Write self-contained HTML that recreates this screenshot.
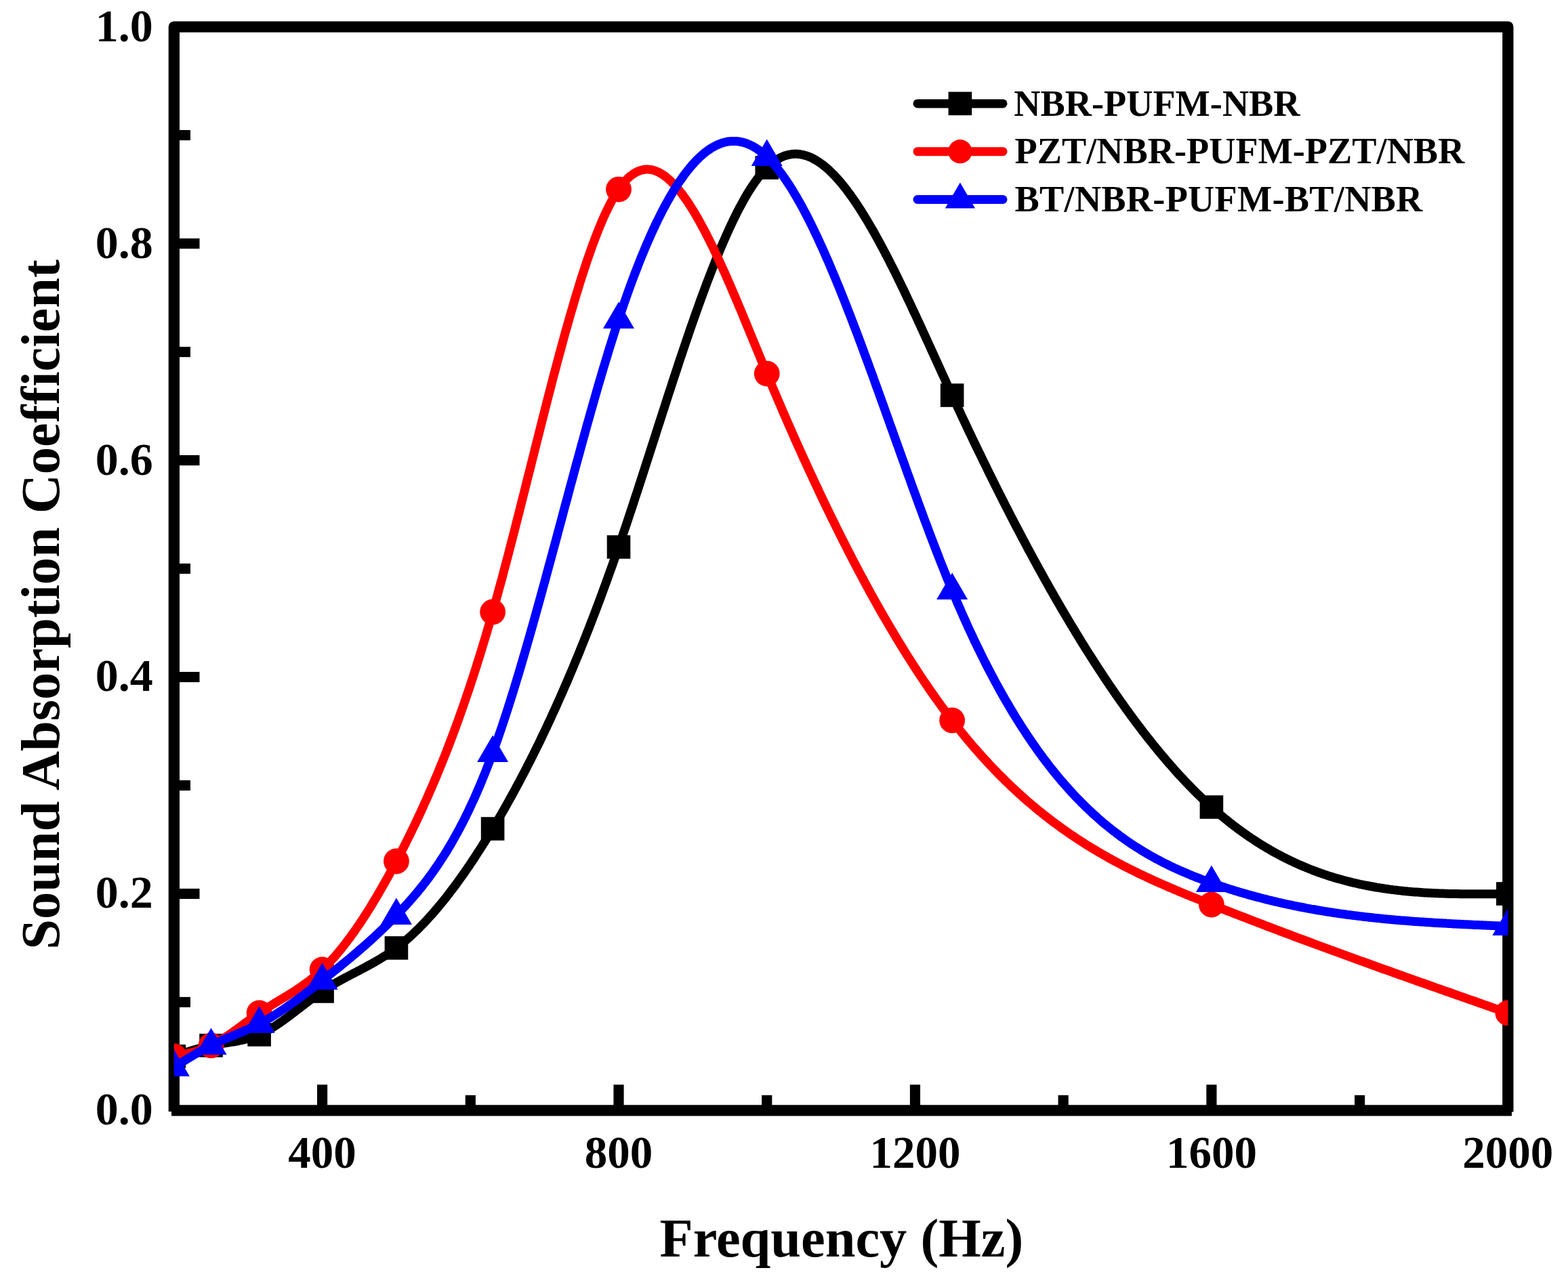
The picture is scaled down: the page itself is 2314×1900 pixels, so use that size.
<!DOCTYPE html>
<html><head><meta charset="utf-8"><title>Sound Absorption Coefficient</title>
<style>html,body{margin:0;padding:0;background:#fff;}svg{display:block;}</style></head>
<body>
<svg width="2314" height="1900" viewBox="0 0 2314 1900">
<defs><clipPath id="pa"><rect x="256.85" y="39.6" width="1968.5" height="1599.8500000000001"/></clipPath></defs>
<rect width="2314" height="1900" fill="#fff"/>
<path d="M256.85,1640.95 L256.85,39.6 L2225.35,39.6 L2225.35,1641.45" fill="none" stroke="#000" stroke-width="16.3" stroke-linejoin="round"/>
<line x1="253" y1="1639.45" x2="2231" y2="1639.45" stroke="#000" stroke-width="16.3"/>
<line x1="475.57" y1="1632.3" x2="475.57" y2="1601.3" stroke="#000" stroke-width="15.2"/>
<line x1="913.02" y1="1632.3" x2="913.02" y2="1601.3" stroke="#000" stroke-width="15.2"/>
<line x1="1350.46" y1="1632.3" x2="1350.46" y2="1601.3" stroke="#000" stroke-width="15.2"/>
<line x1="1787.91" y1="1632.3" x2="1787.91" y2="1601.3" stroke="#000" stroke-width="15.2"/>
<line x1="694.29" y1="1632.3" x2="694.29" y2="1616.8" stroke="#000" stroke-width="15.2"/>
<line x1="1131.74" y1="1632.3" x2="1131.74" y2="1616.8" stroke="#000" stroke-width="15.2"/>
<line x1="1569.18" y1="1632.3" x2="1569.18" y2="1616.8" stroke="#000" stroke-width="15.2"/>
<line x1="2006.63" y1="1632.3" x2="2006.63" y2="1616.8" stroke="#000" stroke-width="15.2"/>
<line x1="264.0" y1="1319.48" x2="294.5" y2="1319.48" stroke="#000" stroke-width="15.2"/>
<line x1="264.0" y1="999.51" x2="294.5" y2="999.51" stroke="#000" stroke-width="15.2"/>
<line x1="264.0" y1="679.54" x2="294.5" y2="679.54" stroke="#000" stroke-width="15.2"/>
<line x1="264.0" y1="359.57" x2="294.5" y2="359.57" stroke="#000" stroke-width="15.2"/>
<line x1="264.0" y1="1479.47" x2="281.0" y2="1479.47" stroke="#000" stroke-width="15.2"/>
<line x1="264.0" y1="1159.49" x2="281.0" y2="1159.49" stroke="#000" stroke-width="15.2"/>
<line x1="264.0" y1="839.52" x2="281.0" y2="839.52" stroke="#000" stroke-width="15.2"/>
<line x1="264.0" y1="519.56" x2="281.0" y2="519.56" stroke="#000" stroke-width="15.2"/>
<line x1="264.0" y1="199.58" x2="281.0" y2="199.58" stroke="#000" stroke-width="15.2"/>
<g clip-path="url(#pa)">
<polyline points="256.9,1559.5 259.6,1558.5 262.3,1557.6 265.1,1556.7 267.8,1555.8 270.5,1554.9 273.3,1554.0 276.0,1553.1 278.7,1552.3 281.5,1551.4 284.2,1550.6 286.9,1549.7 289.7,1548.9 292.4,1548.2 295.1,1547.4 297.9,1546.7 300.6,1546.0 303.3,1545.3 306.1,1544.7 308.8,1544.0 311.5,1543.5 314.3,1542.9 317.0,1542.4 319.7,1541.9 322.5,1541.5 325.2,1541.0 327.9,1540.6 330.7,1540.1 333.4,1539.7 336.1,1539.3 338.9,1538.9 341.6,1538.4 344.3,1538.0 347.1,1537.5 349.8,1537.0 352.5,1536.5 355.3,1535.9 358.0,1535.3 360.7,1534.7 363.5,1534.0 366.2,1533.3 368.9,1532.5 371.7,1531.6 374.4,1530.7 377.1,1529.7 379.9,1528.6 382.6,1527.5 385.3,1526.2 388.1,1524.9 390.8,1523.5 393.6,1522.1 396.3,1520.5 399.0,1518.9 401.8,1517.3 404.5,1515.6 407.2,1513.8 410.0,1512.0 412.7,1510.1 415.4,1508.2 418.2,1506.3 420.9,1504.3 423.6,1502.3 426.4,1500.3 429.1,1498.2 431.8,1496.1 434.6,1494.0 437.3,1491.9 440.0,1489.8 442.8,1487.7 445.5,1485.6 448.2,1483.5 451.0,1481.4 453.7,1479.3 456.4,1477.2 459.2,1475.2 461.9,1473.1 464.6,1471.1 467.4,1469.2 470.1,1467.2 472.8,1465.3 475.6,1463.5 478.3,1461.7 481.0,1459.9 483.8,1458.2 486.5,1456.5 489.2,1454.8 492.0,1453.2 494.7,1451.6 497.4,1450.0 500.2,1448.5 502.9,1447.0 505.6,1445.5 508.4,1444.0 511.1,1442.6 513.8,1441.1 516.6,1439.7 519.3,1438.3 522.1,1436.8 524.8,1435.4 527.5,1434.0 530.3,1432.6 533.0,1431.1 535.7,1429.7 538.5,1428.3 541.2,1426.8 543.9,1425.3 546.7,1423.8 549.4,1422.3 552.1,1420.8 554.9,1419.2 557.6,1417.6 560.3,1416.0 563.1,1414.3 565.8,1412.6 568.5,1410.9 571.3,1409.1 574.0,1407.3 576.7,1405.4 579.5,1403.5 582.2,1401.5 584.9,1399.5 587.7,1397.4 590.4,1395.2 593.1,1393.0 595.9,1390.8 598.6,1388.5 601.3,1386.1 604.1,1383.7 606.8,1381.2 609.5,1378.7 612.3,1376.1 615.0,1373.5 617.7,1370.8 620.5,1368.0 623.2,1365.2 625.9,1362.4 628.7,1359.5 631.4,1356.5 634.1,1353.5 636.9,1350.5 639.6,1347.4 642.3,1344.2 645.1,1341.0 647.8,1337.8 650.5,1334.5 653.3,1331.1 656.0,1327.7 658.8,1324.3 661.5,1320.8 664.2,1317.2 667.0,1313.6 669.7,1310.0 672.4,1306.3 675.2,1302.6 677.9,1298.8 680.6,1295.0 683.4,1291.1 686.1,1287.2 688.8,1283.3 691.6,1279.3 694.3,1275.2 697.0,1271.1 699.8,1267.0 702.5,1262.8 705.2,1258.6 708.0,1254.4 710.7,1250.1 713.4,1245.8 716.2,1241.4 718.9,1237.0 721.6,1232.5 724.4,1228.0 727.1,1223.5 729.8,1218.9 732.6,1214.3 735.3,1209.7 738.0,1205.0 740.8,1200.2 743.5,1195.5 746.2,1190.7 749.0,1185.8 751.7,1180.9 754.4,1176.0 757.2,1171.0 759.9,1166.0 762.6,1160.9 765.4,1155.8 768.1,1150.7 770.8,1145.5 773.6,1140.2 776.3,1135.0 779.0,1129.6 781.8,1124.3 784.5,1118.9 787.3,1113.4 790.0,1107.9 792.7,1102.4 795.5,1096.8 798.2,1091.1 800.9,1085.4 803.7,1079.7 806.4,1073.9 809.1,1068.1 811.9,1062.2 814.6,1056.2 817.3,1050.3 820.1,1044.2 822.8,1038.2 825.5,1032.0 828.3,1025.8 831.0,1019.6 833.7,1013.3 836.5,1007.0 839.2,1000.6 841.9,994.2 844.7,987.7 847.4,981.1 850.1,974.6 852.9,967.9 855.6,961.2 858.3,954.4 861.1,947.6 863.8,940.8 866.5,933.9 869.3,926.9 872.0,919.9 874.7,912.8 877.5,905.6 880.2,898.4 882.9,891.2 885.7,883.9 888.4,876.5 891.1,869.1 893.9,861.6 896.6,854.0 899.3,846.4 902.1,838.8 904.8,831.1 907.5,823.3 910.3,815.4 913.0,807.5 915.8,799.6 918.5,791.5 921.2,783.5 924.0,775.4 926.7,767.2 929.4,759.0 932.2,750.7 934.9,742.4 937.6,734.1 940.4,725.7 943.1,717.3 945.8,708.9 948.6,700.4 951.3,692.0 954.0,683.5 956.8,675.0 959.5,666.5 962.2,658.0 965.0,649.5 967.7,641.0 970.4,632.4 973.2,623.9 975.9,615.4 978.6,607.0 981.4,598.5 984.1,590.0 986.8,581.6 989.6,573.2 992.3,564.8 995.0,556.5 997.8,548.1 1000.5,539.9 1003.2,531.6 1006.0,523.4 1008.7,515.3 1011.4,507.2 1014.2,499.1 1016.9,491.1 1019.6,483.2 1022.4,475.3 1025.1,467.5 1027.8,459.8 1030.6,452.1 1033.3,444.5 1036.0,437.0 1038.8,429.6 1041.5,422.2 1044.2,415.0 1047.0,407.8 1049.7,400.7 1052.5,393.7 1055.2,386.9 1057.9,380.1 1060.7,373.4 1063.4,366.8 1066.1,360.4 1068.9,354.1 1071.6,347.9 1074.3,341.8 1077.1,335.8 1079.8,330.0 1082.5,324.2 1085.3,318.7 1088.0,313.2 1090.7,307.9 1093.5,302.8 1096.2,297.8 1098.9,292.9 1101.7,288.2 1104.4,283.7 1107.1,279.3 1109.9,275.1 1112.6,271.0 1115.3,267.2 1118.1,263.4 1120.8,259.9 1123.5,256.6 1126.3,253.4 1129.0,250.4 1131.7,247.6 1134.5,245.0 1137.2,242.5 1139.9,240.3 1142.7,238.3 1145.4,236.4 1148.1,234.7 1150.9,233.2 1153.6,231.9 1156.3,230.7 1159.1,229.7 1161.8,228.9 1164.5,228.3 1167.3,227.8 1170.0,227.5 1172.7,227.3 1175.5,227.3 1178.2,227.5 1181.0,227.8 1183.7,228.3 1186.4,228.9 1189.2,229.7 1191.9,230.6 1194.6,231.6 1197.4,232.8 1200.1,234.2 1202.8,235.7 1205.6,237.3 1208.3,239.1 1211.0,241.0 1213.8,243.0 1216.5,245.1 1219.2,247.4 1222.0,249.8 1224.7,252.3 1227.4,255.0 1230.2,257.7 1232.9,260.6 1235.6,263.6 1238.4,266.7 1241.1,269.9 1243.8,273.2 1246.6,276.6 1249.3,280.2 1252.0,283.8 1254.8,287.5 1257.5,291.4 1260.2,295.3 1263.0,299.3 1265.7,303.4 1268.4,307.6 1271.2,311.9 1273.9,316.2 1276.6,320.7 1279.4,325.2 1282.1,329.8 1284.8,334.5 1287.6,339.2 1290.3,344.0 1293.0,348.9 1295.8,353.9 1298.5,358.9 1301.2,364.0 1304.0,369.1 1306.7,374.4 1309.5,379.6 1312.2,384.9 1314.9,390.3 1317.7,395.7 1320.4,401.2 1323.1,406.7 1325.9,412.3 1328.6,417.9 1331.3,423.5 1334.1,429.2 1336.8,435.0 1339.5,440.7 1342.3,446.5 1345.0,452.3 1347.7,458.2 1350.5,464.0 1353.2,469.9 1355.9,475.8 1358.7,481.8 1361.4,487.7 1364.1,493.7 1366.9,499.7 1369.6,505.6 1372.3,511.6 1375.1,517.7 1377.8,523.7 1380.5,529.7 1383.3,535.7 1386.0,541.7 1388.7,547.7 1391.5,553.7 1394.2,559.7 1396.9,565.7 1399.7,571.7 1402.4,577.6 1405.1,583.5 1407.9,589.5 1410.6,595.4 1413.3,601.3 1416.1,607.1 1418.8,613.0 1421.5,618.8 1424.3,624.6 1427.0,630.4 1429.7,636.2 1432.5,641.9 1435.2,647.7 1437.9,653.4 1440.7,659.1 1443.4,664.7 1446.2,670.4 1448.9,676.0 1451.6,681.6 1454.4,687.2 1457.1,692.8 1459.8,698.4 1462.6,703.9 1465.3,709.4 1468.0,714.9 1470.8,720.4 1473.5,725.8 1476.2,731.2 1479.0,736.7 1481.7,742.0 1484.4,747.4 1487.2,752.8 1489.9,758.1 1492.6,763.4 1495.4,768.7 1498.1,773.9 1500.8,779.2 1503.6,784.4 1506.3,789.6 1509.0,794.8 1511.8,799.9 1514.5,805.0 1517.2,810.2 1520.0,815.2 1522.7,820.3 1525.4,825.3 1528.2,830.4 1530.9,835.4 1533.6,840.3 1536.4,845.3 1539.1,850.2 1541.8,855.1 1544.6,860.0 1547.3,864.9 1550.0,869.7 1552.8,874.5 1555.5,879.3 1558.2,884.1 1561.0,888.8 1563.7,893.5 1566.4,898.2 1569.2,902.9 1571.9,907.5 1574.7,912.2 1577.4,916.8 1580.1,921.3 1582.9,925.9 1585.6,930.4 1588.3,934.9 1591.1,939.4 1593.8,943.9 1596.5,948.3 1599.3,952.7 1602.0,957.1 1604.7,961.4 1607.5,965.7 1610.2,970.0 1612.9,974.3 1615.7,978.6 1618.4,982.8 1621.1,987.0 1623.9,991.2 1626.6,995.3 1629.3,999.5 1632.1,1003.6 1634.8,1007.6 1637.5,1011.7 1640.3,1015.7 1643.0,1019.7 1645.7,1023.7 1648.5,1027.6 1651.2,1031.5 1653.9,1035.4 1656.7,1039.3 1659.4,1043.1 1662.1,1046.9 1664.9,1050.7 1667.6,1054.5 1670.3,1058.2 1673.1,1061.9 1675.8,1065.6 1678.5,1069.2 1681.3,1072.8 1684.0,1076.4 1686.7,1080.0 1689.5,1083.5 1692.2,1087.0 1694.9,1090.5 1697.7,1093.9 1700.4,1097.4 1703.2,1100.8 1705.9,1104.1 1708.6,1107.5 1711.4,1110.8 1714.1,1114.1 1716.8,1117.3 1719.6,1120.5 1722.3,1123.7 1725.0,1126.9 1727.8,1130.0 1730.5,1133.1 1733.2,1136.2 1736.0,1139.3 1738.7,1142.3 1741.4,1145.3 1744.2,1148.2 1746.9,1151.2 1749.6,1154.1 1752.4,1156.9 1755.1,1159.8 1757.8,1162.6 1760.6,1165.4 1763.3,1168.1 1766.0,1170.8 1768.8,1173.5 1771.5,1176.2 1774.2,1178.8 1777.0,1181.4 1779.7,1184.0 1782.4,1186.5 1785.2,1189.0 1787.9,1191.5 1790.6,1193.9 1793.4,1196.3 1796.1,1198.7 1798.8,1201.1 1801.6,1203.4 1804.3,1205.7 1807.0,1208.0 1809.8,1210.2 1812.5,1212.4 1815.2,1214.6 1818.0,1216.7 1820.7,1218.8 1823.4,1220.9 1826.2,1223.0 1828.9,1225.0 1831.7,1227.0 1834.4,1229.0 1837.1,1230.9 1839.9,1232.8 1842.6,1234.7 1845.3,1236.6 1848.1,1238.4 1850.8,1240.2 1853.5,1242.0 1856.3,1243.8 1859.0,1245.5 1861.7,1247.2 1864.5,1248.9 1867.2,1250.5 1869.9,1252.1 1872.7,1253.7 1875.4,1255.3 1878.1,1256.9 1880.9,1258.4 1883.6,1259.9 1886.3,1261.4 1889.1,1262.8 1891.8,1264.3 1894.5,1265.7 1897.3,1267.0 1900.0,1268.4 1902.7,1269.7 1905.5,1271.1 1908.2,1272.3 1910.9,1273.6 1913.7,1274.9 1916.4,1276.1 1919.1,1277.3 1921.9,1278.5 1924.6,1279.6 1927.3,1280.7 1930.1,1281.9 1932.8,1283.0 1935.5,1284.0 1938.3,1285.1 1941.0,1286.1 1943.7,1287.1 1946.5,1288.1 1949.2,1289.1 1951.9,1290.0 1954.7,1291.0 1957.4,1291.9 1960.1,1292.8 1962.9,1293.7 1965.6,1294.5 1968.4,1295.4 1971.1,1296.2 1973.8,1297.0 1976.6,1297.8 1979.3,1298.5 1982.0,1299.3 1984.8,1300.0 1987.5,1300.7 1990.2,1301.4 1993.0,1302.1 1995.7,1302.8 1998.4,1303.4 2001.2,1304.0 2003.9,1304.7 2006.6,1305.3 2009.4,1305.8 2012.1,1306.4 2014.8,1307.0 2017.6,1307.5 2020.3,1308.0 2023.0,1308.5 2025.8,1309.0 2028.5,1309.5 2031.2,1310.0 2034.0,1310.4 2036.7,1310.9 2039.4,1311.3 2042.2,1311.7 2044.9,1312.1 2047.6,1312.5 2050.4,1312.9 2053.1,1313.2 2055.8,1313.6 2058.6,1313.9 2061.3,1314.3 2064.0,1314.6 2066.8,1314.9 2069.5,1315.2 2072.2,1315.5 2075.0,1315.7 2077.7,1316.0 2080.4,1316.2 2083.2,1316.5 2085.9,1316.7 2088.6,1316.9 2091.4,1317.1 2094.1,1317.3 2096.9,1317.5 2099.6,1317.7 2102.3,1317.9 2105.1,1318.0 2107.8,1318.2 2110.5,1318.3 2113.3,1318.5 2116.0,1318.6 2118.7,1318.7 2121.5,1318.8 2124.2,1318.9 2126.9,1319.0 2129.7,1319.1 2132.4,1319.2 2135.1,1319.3 2137.9,1319.4 2140.6,1319.4 2143.3,1319.5 2146.1,1319.6 2148.8,1319.6 2151.5,1319.6 2154.3,1319.7 2157.0,1319.7 2159.7,1319.7 2162.5,1319.8 2165.2,1319.8 2167.9,1319.8 2170.7,1319.8 2173.4,1319.8 2176.1,1319.8 2178.9,1319.8 2181.6,1319.8 2184.3,1319.8 2187.1,1319.8 2189.8,1319.8 2192.5,1319.8 2195.3,1319.8 2198.0,1319.7 2200.7,1319.7 2203.5,1319.7 2206.2,1319.7 2208.9,1319.7 2211.7,1319.6 2214.4,1319.6 2217.1,1319.6 2219.9,1319.5 2222.6,1319.5 2225.3,1319.5" fill="none" stroke="#000000" stroke-width="13.0" stroke-linejoin="round" stroke-linecap="round"/>
<rect x="239.55" y="1542.16" width="34.6" height="34.6" fill="#000000"/>
<rect x="294.23" y="1526.16" width="34.6" height="34.6" fill="#000000"/>
<rect x="365.32" y="1510.16" width="34.6" height="34.6" fill="#000000"/>
<rect x="458.27" y="1446.17" width="34.6" height="34.6" fill="#000000"/>
<rect x="567.63" y="1382.17" width="34.6" height="34.6" fill="#000000"/>
<rect x="709.80" y="1206.19" width="34.6" height="34.6" fill="#000000"/>
<rect x="895.72" y="790.23" width="34.6" height="34.6" fill="#000000"/>
<rect x="1114.44" y="230.28" width="34.6" height="34.6" fill="#000000"/>
<rect x="1387.84" y="566.25" width="34.6" height="34.6" fill="#000000"/>
<rect x="1770.61" y="1174.19" width="34.6" height="34.6" fill="#000000"/>
<rect x="2208.05" y="1302.18" width="34.6" height="34.6" fill="#000000"/>
<polyline points="256.9,1559.5 259.6,1558.9 262.3,1558.4 265.1,1557.8 267.8,1557.3 270.5,1556.7 273.3,1556.1 276.0,1555.5 278.7,1554.8 281.5,1554.2 284.2,1553.4 286.9,1552.7 289.7,1551.9 292.4,1551.0 295.1,1550.1 297.9,1549.2 300.6,1548.2 303.3,1547.1 306.1,1546.0 308.8,1544.7 311.5,1543.5 314.3,1542.1 317.0,1540.7 319.7,1539.1 322.5,1537.6 325.2,1535.9 327.9,1534.2 330.7,1532.5 333.4,1530.7 336.1,1528.9 338.9,1527.0 341.6,1525.1 344.3,1523.1 347.1,1521.2 349.8,1519.2 352.5,1517.2 355.3,1515.2 358.0,1513.2 360.7,1511.1 363.5,1509.1 366.2,1507.1 368.9,1505.1 371.7,1503.1 374.4,1501.2 377.1,1499.2 379.9,1497.3 382.6,1495.5 385.3,1493.6 388.1,1491.8 390.8,1490.1 393.6,1488.3 396.3,1486.6 399.0,1484.9 401.8,1483.2 404.5,1481.6 407.2,1479.9 410.0,1478.3 412.7,1476.6 415.4,1475.0 418.2,1473.3 420.9,1471.7 423.6,1470.0 426.4,1468.3 429.1,1466.6 431.8,1464.9 434.6,1463.1 437.3,1461.4 440.0,1459.5 442.8,1457.7 445.5,1455.8 448.2,1453.9 451.0,1451.9 453.7,1449.9 456.4,1447.8 459.2,1445.7 461.9,1443.5 464.6,1441.2 467.4,1438.9 470.1,1436.5 472.8,1434.0 475.6,1431.5 478.3,1428.8 481.0,1426.1 483.8,1423.3 486.5,1420.5 489.2,1417.5 492.0,1414.5 494.7,1411.4 497.4,1408.2 500.2,1404.9 502.9,1401.6 505.6,1398.2 508.4,1394.7 511.1,1391.2 513.8,1387.5 516.6,1383.9 519.3,1380.1 522.1,1376.3 524.8,1372.4 527.5,1368.4 530.3,1364.4 533.0,1360.3 535.7,1356.2 538.5,1351.9 541.2,1347.7 543.9,1343.3 546.7,1338.9 549.4,1334.5 552.1,1329.9 554.9,1325.4 557.6,1320.7 560.3,1316.1 563.1,1311.3 565.8,1306.5 568.5,1301.7 571.3,1296.8 574.0,1291.8 576.7,1286.8 579.5,1281.7 582.2,1276.6 584.9,1271.5 587.7,1266.3 590.4,1261.0 593.1,1255.7 595.9,1250.4 598.6,1245.0 601.3,1239.5 604.1,1234.0 606.8,1228.4 609.5,1222.8 612.3,1217.1 615.0,1211.4 617.7,1205.5 620.5,1199.6 623.2,1193.7 625.9,1187.7 628.7,1181.6 631.4,1175.4 634.1,1169.2 636.9,1162.9 639.6,1156.5 642.3,1150.1 645.1,1143.5 647.8,1136.9 650.5,1130.2 653.3,1123.4 656.0,1116.6 658.8,1109.6 661.5,1102.6 664.2,1095.4 667.0,1088.2 669.7,1080.9 672.4,1073.5 675.2,1066.0 677.9,1058.4 680.6,1050.7 683.4,1042.9 686.1,1035.0 688.8,1027.0 691.6,1018.9 694.3,1010.7 697.0,1002.4 699.8,994.0 702.5,985.5 705.2,976.8 708.0,968.1 710.7,959.2 713.4,950.2 716.2,941.1 718.9,931.9 721.6,922.6 724.4,913.1 727.1,903.5 729.8,893.8 732.6,884.0 735.3,874.0 738.0,864.0 740.8,853.9 743.5,843.6 746.2,833.3 749.0,822.9 751.7,812.4 754.4,801.8 757.2,791.2 759.9,780.6 762.6,769.8 765.4,759.1 768.1,748.2 770.8,737.4 773.6,726.5 776.3,715.6 779.0,704.7 781.8,693.8 784.5,682.9 787.3,672.0 790.0,661.1 792.7,650.2 795.5,639.3 798.2,628.5 800.9,617.7 803.7,606.9 806.4,596.2 809.1,585.6 811.9,574.9 814.6,564.4 817.3,553.9 820.1,543.5 822.8,533.2 825.5,523.0 828.3,512.9 831.0,502.9 833.7,492.9 836.5,483.1 839.2,473.5 841.9,463.9 844.7,454.5 847.4,445.2 850.1,436.0 852.9,427.1 855.6,418.2 858.3,409.5 861.1,401.0 863.8,392.7 866.5,384.6 869.3,376.6 872.0,368.8 874.7,361.3 877.5,353.9 880.2,346.7 882.9,339.8 885.7,333.1 888.4,326.6 891.1,320.3 893.9,314.3 896.6,308.6 899.3,303.1 902.1,297.8 904.8,292.9 907.5,288.1 910.3,283.7 913.0,279.6 915.8,275.7 918.5,272.2 921.2,268.9 924.0,265.9 926.7,263.1 929.4,260.7 932.2,258.5 934.9,256.6 937.6,254.9 940.4,253.5 943.1,252.3 945.8,251.4 948.6,250.7 951.3,250.3 954.0,250.1 956.8,250.1 959.5,250.4 962.2,250.8 965.0,251.5 967.7,252.5 970.4,253.6 973.2,254.9 975.9,256.5 978.6,258.2 981.4,260.1 984.1,262.3 986.8,264.6 989.6,267.1 992.3,269.7 995.0,272.6 997.8,275.6 1000.5,278.8 1003.2,282.2 1006.0,285.7 1008.7,289.4 1011.4,293.2 1014.2,297.1 1016.9,301.3 1019.6,305.5 1022.4,309.9 1025.1,314.4 1027.8,319.1 1030.6,323.9 1033.3,328.8 1036.0,333.8 1038.8,338.9 1041.5,344.1 1044.2,349.5 1047.0,354.9 1049.7,360.4 1052.5,366.0 1055.2,371.8 1057.9,377.6 1060.7,383.4 1063.4,389.4 1066.1,395.4 1068.9,401.5 1071.6,407.7 1074.3,413.9 1077.1,420.2 1079.8,426.5 1082.5,432.9 1085.3,439.3 1088.0,445.8 1090.7,452.3 1093.5,458.8 1096.2,465.4 1098.9,472.0 1101.7,478.6 1104.4,485.2 1107.1,491.9 1109.9,498.5 1112.6,505.2 1115.3,511.8 1118.1,518.5 1120.8,525.1 1123.5,531.7 1126.3,538.4 1129.0,545.0 1131.7,551.6 1134.5,558.1 1137.2,564.6 1139.9,571.1 1142.7,577.6 1145.4,584.1 1148.1,590.5 1150.9,596.9 1153.6,603.2 1156.3,609.6 1159.1,615.9 1161.8,622.2 1164.5,628.4 1167.3,634.7 1170.0,640.9 1172.7,647.0 1175.5,653.2 1178.2,659.3 1181.0,665.4 1183.7,671.5 1186.4,677.5 1189.2,683.5 1191.9,689.5 1194.6,695.4 1197.4,701.3 1200.1,707.2 1202.8,713.1 1205.6,718.9 1208.3,724.8 1211.0,730.5 1213.8,736.3 1216.5,742.0 1219.2,747.7 1222.0,753.4 1224.7,759.0 1227.4,764.6 1230.2,770.2 1232.9,775.7 1235.6,781.3 1238.4,786.8 1241.1,792.2 1243.8,797.7 1246.6,803.1 1249.3,808.4 1252.0,813.8 1254.8,819.1 1257.5,824.4 1260.2,829.6 1263.0,834.9 1265.7,840.0 1268.4,845.2 1271.2,850.3 1273.9,855.4 1276.6,860.5 1279.4,865.6 1282.1,870.6 1284.8,875.6 1287.6,880.5 1290.3,885.4 1293.0,890.3 1295.8,895.2 1298.5,900.0 1301.2,904.8 1304.0,909.6 1306.7,914.3 1309.5,919.0 1312.2,923.7 1314.9,928.3 1317.7,932.9 1320.4,937.5 1323.1,942.1 1325.9,946.6 1328.6,951.1 1331.3,955.5 1334.1,959.9 1336.8,964.3 1339.5,968.7 1342.3,973.0 1345.0,977.3 1347.7,981.6 1350.5,985.8 1353.2,990.0 1355.9,994.2 1358.7,998.3 1361.4,1002.4 1364.1,1006.5 1366.9,1010.5 1369.6,1014.5 1372.3,1018.5 1375.1,1022.4 1377.8,1026.3 1380.5,1030.2 1383.3,1034.0 1386.0,1037.8 1388.7,1041.6 1391.5,1045.3 1394.2,1049.0 1396.9,1052.7 1399.7,1056.3 1402.4,1059.9 1405.1,1063.5 1407.9,1067.0 1410.6,1070.5 1413.3,1074.0 1416.1,1077.4 1418.8,1080.9 1421.5,1084.2 1424.3,1087.6 1427.0,1090.9 1429.7,1094.1 1432.5,1097.4 1435.2,1100.6 1437.9,1103.8 1440.7,1106.9 1443.4,1110.0 1446.2,1113.1 1448.9,1116.2 1451.6,1119.2 1454.4,1122.2 1457.1,1125.2 1459.8,1128.1 1462.6,1131.0 1465.3,1133.9 1468.0,1136.8 1470.8,1139.6 1473.5,1142.4 1476.2,1145.1 1479.0,1147.9 1481.7,1150.6 1484.4,1153.3 1487.2,1155.9 1489.9,1158.6 1492.6,1161.2 1495.4,1163.8 1498.1,1166.3 1500.8,1168.8 1503.6,1171.3 1506.3,1173.8 1509.0,1176.3 1511.8,1178.7 1514.5,1181.1 1517.2,1183.5 1520.0,1185.8 1522.7,1188.1 1525.4,1190.4 1528.2,1192.7 1530.9,1195.0 1533.6,1197.2 1536.4,1199.4 1539.1,1201.6 1541.8,1203.8 1544.6,1205.9 1547.3,1208.0 1550.0,1210.1 1552.8,1212.2 1555.5,1214.3 1558.2,1216.3 1561.0,1218.3 1563.7,1220.3 1566.4,1222.3 1569.2,1224.2 1571.9,1226.2 1574.7,1228.1 1577.4,1230.0 1580.1,1231.9 1582.9,1233.7 1585.6,1235.5 1588.3,1237.4 1591.1,1239.2 1593.8,1240.9 1596.5,1242.7 1599.3,1244.5 1602.0,1246.2 1604.7,1247.9 1607.5,1249.6 1610.2,1251.3 1612.9,1252.9 1615.7,1254.6 1618.4,1256.2 1621.1,1257.8 1623.9,1259.4 1626.6,1261.0 1629.3,1262.6 1632.1,1264.1 1634.8,1265.7 1637.5,1267.2 1640.3,1268.7 1643.0,1270.2 1645.7,1271.7 1648.5,1273.1 1651.2,1274.6 1653.9,1276.0 1656.7,1277.5 1659.4,1278.9 1662.1,1280.3 1664.9,1281.7 1667.6,1283.1 1670.3,1284.4 1673.1,1285.8 1675.8,1287.1 1678.5,1288.5 1681.3,1289.8 1684.0,1291.1 1686.7,1292.4 1689.5,1293.7 1692.2,1295.0 1694.9,1296.2 1697.7,1297.5 1700.4,1298.8 1703.2,1300.0 1705.9,1301.3 1708.6,1302.5 1711.4,1303.7 1714.1,1304.9 1716.8,1306.1 1719.6,1307.3 1722.3,1308.5 1725.0,1309.7 1727.8,1310.9 1730.5,1312.0 1733.2,1313.2 1736.0,1314.4 1738.7,1315.5 1741.4,1316.7 1744.2,1317.8 1746.9,1318.9 1749.6,1320.1 1752.4,1321.2 1755.1,1322.3 1757.8,1323.4 1760.6,1324.5 1763.3,1325.6 1766.0,1326.7 1768.8,1327.8 1771.5,1328.9 1774.2,1330.0 1777.0,1331.1 1779.7,1332.2 1782.4,1333.3 1785.2,1334.4 1787.9,1335.5 1790.6,1336.6 1793.4,1337.6 1796.1,1338.7 1798.8,1339.8 1801.6,1340.9 1804.3,1341.9 1807.0,1343.0 1809.8,1344.1 1812.5,1345.2 1815.2,1346.2 1818.0,1347.3 1820.7,1348.4 1823.4,1349.4 1826.2,1350.5 1828.9,1351.6 1831.7,1352.6 1834.4,1353.7 1837.1,1354.7 1839.9,1355.8 1842.6,1356.8 1845.3,1357.9 1848.1,1358.9 1850.8,1360.0 1853.5,1361.0 1856.3,1362.1 1859.0,1363.1 1861.7,1364.2 1864.5,1365.2 1867.2,1366.3 1869.9,1367.3 1872.7,1368.4 1875.4,1369.4 1878.1,1370.4 1880.9,1371.5 1883.6,1372.5 1886.3,1373.5 1889.1,1374.6 1891.8,1375.6 1894.5,1376.6 1897.3,1377.7 1900.0,1378.7 1902.7,1379.7 1905.5,1380.7 1908.2,1381.8 1910.9,1382.8 1913.7,1383.8 1916.4,1384.8 1919.1,1385.8 1921.9,1386.9 1924.6,1387.9 1927.3,1388.9 1930.1,1389.9 1932.8,1390.9 1935.5,1391.9 1938.3,1393.0 1941.0,1394.0 1943.7,1395.0 1946.5,1396.0 1949.2,1397.0 1951.9,1398.0 1954.7,1399.0 1957.4,1400.0 1960.1,1401.0 1962.9,1402.0 1965.6,1403.0 1968.4,1404.0 1971.1,1405.0 1973.8,1406.0 1976.6,1407.0 1979.3,1408.0 1982.0,1409.0 1984.8,1410.0 1987.5,1411.0 1990.2,1412.0 1993.0,1413.0 1995.7,1414.0 1998.4,1415.0 2001.2,1416.0 2003.9,1417.0 2006.6,1418.0 2009.4,1419.0 2012.1,1419.9 2014.8,1420.9 2017.6,1421.9 2020.3,1422.9 2023.0,1423.9 2025.8,1424.9 2028.5,1425.9 2031.2,1426.8 2034.0,1427.8 2036.7,1428.8 2039.4,1429.8 2042.2,1430.8 2044.9,1431.7 2047.6,1432.7 2050.4,1433.7 2053.1,1434.7 2055.8,1435.7 2058.6,1436.6 2061.3,1437.6 2064.0,1438.6 2066.8,1439.6 2069.5,1440.5 2072.2,1441.5 2075.0,1442.5 2077.7,1443.5 2080.4,1444.4 2083.2,1445.4 2085.9,1446.4 2088.6,1447.3 2091.4,1448.3 2094.1,1449.3 2096.9,1450.3 2099.6,1451.2 2102.3,1452.2 2105.1,1453.2 2107.8,1454.1 2110.5,1455.1 2113.3,1456.1 2116.0,1457.0 2118.7,1458.0 2121.5,1459.0 2124.2,1459.9 2126.9,1460.9 2129.7,1461.9 2132.4,1462.8 2135.1,1463.8 2137.9,1464.7 2140.6,1465.7 2143.3,1466.7 2146.1,1467.6 2148.8,1468.6 2151.5,1469.6 2154.3,1470.5 2157.0,1471.5 2159.7,1472.4 2162.5,1473.4 2165.2,1474.4 2167.9,1475.3 2170.7,1476.3 2173.4,1477.2 2176.1,1478.2 2178.9,1479.2 2181.6,1480.1 2184.3,1481.1 2187.1,1482.0 2189.8,1483.0 2192.5,1484.0 2195.3,1484.9 2198.0,1485.9 2200.7,1486.8 2203.5,1487.8 2206.2,1488.8 2208.9,1489.7 2211.7,1490.7 2214.4,1491.6 2217.1,1492.6 2219.9,1493.5 2222.6,1494.5 2225.3,1495.5" fill="none" stroke="#ff0000" stroke-width="13.0" stroke-linejoin="round" stroke-linecap="round"/>
<circle cx="256.85" cy="1559.46" r="18.9" fill="#ff0000"/>
<circle cx="311.53" cy="1543.46" r="18.9" fill="#ff0000"/>
<circle cx="382.62" cy="1495.46" r="18.9" fill="#ff0000"/>
<circle cx="475.57" cy="1431.47" r="18.9" fill="#ff0000"/>
<circle cx="584.93" cy="1271.48" r="18.9" fill="#ff0000"/>
<circle cx="727.10" cy="903.52" r="18.9" fill="#ff0000"/>
<circle cx="913.02" cy="279.58" r="18.9" fill="#ff0000"/>
<circle cx="1131.74" cy="551.55" r="18.9" fill="#ff0000"/>
<circle cx="1405.14" cy="1063.50" r="18.9" fill="#ff0000"/>
<circle cx="1787.91" cy="1335.48" r="18.9" fill="#ff0000"/>
<circle cx="2225.35" cy="1495.46" r="18.9" fill="#ff0000"/>
<polyline points="256.9,1575.5 259.6,1573.7 262.3,1572.0 265.1,1570.3 267.8,1568.6 270.5,1566.9 273.3,1565.2 276.0,1563.5 278.7,1561.9 281.5,1560.2 284.2,1558.6 286.9,1557.0 289.7,1555.4 292.4,1553.8 295.1,1552.2 297.9,1550.7 300.6,1549.2 303.3,1547.7 306.1,1546.3 308.8,1544.8 311.5,1543.5 314.3,1542.1 317.0,1540.8 319.7,1539.5 322.5,1538.2 325.2,1537.0 327.9,1535.8 330.7,1534.6 333.4,1533.4 336.1,1532.2 338.9,1531.1 341.6,1529.9 344.3,1528.8 347.1,1527.6 349.8,1526.5 352.5,1525.3 355.3,1524.2 358.0,1523.0 360.7,1521.8 363.5,1520.6 366.2,1519.4 368.9,1518.1 371.7,1516.8 374.4,1515.5 377.1,1514.2 379.9,1512.9 382.6,1511.5 385.3,1510.0 388.1,1508.6 390.8,1507.0 393.6,1505.5 396.3,1503.9 399.0,1502.3 401.8,1500.6 404.5,1499.0 407.2,1497.3 410.0,1495.5 412.7,1493.7 415.4,1491.9 418.2,1490.1 420.9,1488.3 423.6,1486.4 426.4,1484.5 429.1,1482.6 431.8,1480.6 434.6,1478.7 437.3,1476.7 440.0,1474.7 442.8,1472.7 445.5,1470.6 448.2,1468.6 451.0,1466.5 453.7,1464.4 456.4,1462.4 459.2,1460.3 461.9,1458.1 464.6,1456.0 467.4,1453.9 470.1,1451.8 472.8,1449.6 475.6,1447.5 478.3,1445.3 481.0,1443.2 483.8,1441.0 486.5,1438.8 489.2,1436.7 492.0,1434.5 494.7,1432.3 497.4,1430.1 500.2,1427.9 502.9,1425.7 505.6,1423.4 508.4,1421.2 511.1,1418.9 513.8,1416.7 516.6,1414.4 519.3,1412.1 522.1,1409.8 524.8,1407.5 527.5,1405.2 530.3,1402.8 533.0,1400.4 535.7,1398.1 538.5,1395.7 541.2,1393.2 543.9,1390.8 546.7,1388.3 549.4,1385.9 552.1,1383.4 554.9,1380.8 557.6,1378.3 560.3,1375.7 563.1,1373.1 565.8,1370.5 568.5,1367.9 571.3,1365.2 574.0,1362.5 576.7,1359.8 579.5,1357.1 582.2,1354.3 584.9,1351.5 587.7,1348.6 590.4,1345.8 593.1,1342.9 595.9,1339.9 598.6,1337.0 601.3,1334.0 604.1,1330.9 606.8,1327.8 609.5,1324.6 612.3,1321.4 615.0,1318.2 617.7,1314.9 620.5,1311.5 623.2,1308.1 625.9,1304.6 628.7,1301.1 631.4,1297.5 634.1,1293.8 636.9,1290.0 639.6,1286.2 642.3,1282.3 645.1,1278.3 647.8,1274.3 650.5,1270.1 653.3,1265.9 656.0,1261.6 658.8,1257.2 661.5,1252.7 664.2,1248.1 667.0,1243.4 669.7,1238.6 672.4,1233.7 675.2,1228.8 677.9,1223.7 680.6,1218.5 683.4,1213.2 686.1,1207.8 688.8,1202.2 691.6,1196.6 694.3,1190.8 697.0,1184.9 699.8,1178.9 702.5,1172.8 705.2,1166.5 708.0,1160.1 710.7,1153.6 713.4,1146.9 716.2,1140.1 718.9,1133.2 721.6,1126.1 724.4,1118.9 727.1,1111.5 729.8,1104.0 732.6,1096.3 735.3,1088.5 738.0,1080.6 740.8,1072.5 743.5,1064.3 746.2,1056.0 749.0,1047.5 751.7,1038.9 754.4,1030.3 757.2,1021.5 759.9,1012.6 762.6,1003.6 765.4,994.5 768.1,985.3 770.8,976.1 773.6,966.7 776.3,957.3 779.0,947.8 781.8,938.2 784.5,928.5 787.3,918.8 790.0,909.0 792.7,899.2 795.5,889.3 798.2,879.4 800.9,869.4 803.7,859.4 806.4,849.3 809.1,839.2 811.9,829.1 814.6,819.0 817.3,808.8 820.1,798.7 822.8,788.5 825.5,778.3 828.3,768.1 831.0,757.9 833.7,747.7 836.5,737.5 839.2,727.3 841.9,717.1 844.7,707.0 847.4,696.9 850.1,686.8 852.9,676.7 855.6,666.7 858.3,656.7 861.1,646.8 863.8,636.9 866.5,627.0 869.3,617.3 872.0,607.5 874.7,597.9 877.5,588.3 880.2,578.8 882.9,569.3 885.7,559.9 888.4,550.7 891.1,541.5 893.9,532.4 896.6,523.4 899.3,514.4 902.1,505.6 904.8,497.0 907.5,488.4 910.3,479.9 913.0,471.6 915.8,463.3 918.5,455.2 921.2,447.3 924.0,439.4 926.7,431.7 929.4,424.1 932.2,416.6 934.9,409.3 937.6,402.1 940.4,395.0 943.1,388.0 945.8,381.2 948.6,374.5 951.3,367.9 954.0,361.4 956.8,355.1 959.5,348.9 962.2,342.8 965.0,336.9 967.7,331.1 970.4,325.4 973.2,319.9 975.9,314.4 978.6,309.1 981.4,304.0 984.1,299.0 986.8,294.1 989.6,289.3 992.3,284.7 995.0,280.2 997.8,275.8 1000.5,271.6 1003.2,267.5 1006.0,263.6 1008.7,259.7 1011.4,256.0 1014.2,252.5 1016.9,249.1 1019.6,245.8 1022.4,242.6 1025.1,239.6 1027.8,236.7 1030.6,234.0 1033.3,231.4 1036.0,228.9 1038.8,226.6 1041.5,224.4 1044.2,222.4 1047.0,220.5 1049.7,218.7 1052.5,217.1 1055.2,215.6 1057.9,214.2 1060.7,213.0 1063.4,211.9 1066.1,211.0 1068.9,210.2 1071.6,209.5 1074.3,209.0 1077.1,208.7 1079.8,208.4 1082.5,208.4 1085.3,208.4 1088.0,208.6 1090.7,209.0 1093.5,209.5 1096.2,210.1 1098.9,210.9 1101.7,211.8 1104.4,212.9 1107.1,214.1 1109.9,215.4 1112.6,216.9 1115.3,218.6 1118.1,220.4 1120.8,222.3 1123.5,224.4 1126.3,226.7 1129.0,229.0 1131.7,231.6 1134.5,234.3 1137.2,237.1 1139.9,240.1 1142.7,243.2 1145.4,246.4 1148.1,249.8 1150.9,253.4 1153.6,257.0 1156.3,260.8 1159.1,264.7 1161.8,268.8 1164.5,272.9 1167.3,277.2 1170.0,281.6 1172.7,286.2 1175.5,290.8 1178.2,295.6 1181.0,300.5 1183.7,305.4 1186.4,310.5 1189.2,315.7 1191.9,321.0 1194.6,326.4 1197.4,331.9 1200.1,337.5 1202.8,343.2 1205.6,348.9 1208.3,354.8 1211.0,360.8 1213.8,366.8 1216.5,372.9 1219.2,379.1 1222.0,385.4 1224.7,391.8 1227.4,398.2 1230.2,404.7 1232.9,411.3 1235.6,417.9 1238.4,424.6 1241.1,431.4 1243.8,438.2 1246.6,445.1 1249.3,452.1 1252.0,459.1 1254.8,466.1 1257.5,473.2 1260.2,480.4 1263.0,487.6 1265.7,494.8 1268.4,502.1 1271.2,509.4 1273.9,516.8 1276.6,524.2 1279.4,531.6 1282.1,539.1 1284.8,546.6 1287.6,554.1 1290.3,561.6 1293.0,569.2 1295.8,576.8 1298.5,584.4 1301.2,592.0 1304.0,599.6 1306.7,607.3 1309.5,614.9 1312.2,622.6 1314.9,630.2 1317.7,637.9 1320.4,645.6 1323.1,653.2 1325.9,660.9 1328.6,668.5 1331.3,676.2 1334.1,683.8 1336.8,691.4 1339.5,699.1 1342.3,706.6 1345.0,714.2 1347.7,721.8 1350.5,729.3 1353.2,736.8 1355.9,744.3 1358.7,751.7 1361.4,759.1 1364.1,766.5 1366.9,773.8 1369.6,781.1 1372.3,788.4 1375.1,795.6 1377.8,802.8 1380.5,809.9 1383.3,817.0 1386.0,824.0 1388.7,831.0 1391.5,837.9 1394.2,844.7 1396.9,851.5 1399.7,858.3 1402.4,864.9 1405.1,871.5 1407.9,878.1 1410.6,884.5 1413.3,890.9 1416.1,897.2 1418.8,903.5 1421.5,909.7 1424.3,915.8 1427.0,921.9 1429.7,927.9 1432.5,933.8 1435.2,939.6 1437.9,945.4 1440.7,951.2 1443.4,956.8 1446.2,962.4 1448.9,968.0 1451.6,973.5 1454.4,978.9 1457.1,984.2 1459.8,989.5 1462.6,994.8 1465.3,999.9 1468.0,1005.1 1470.8,1010.1 1473.5,1015.1 1476.2,1020.0 1479.0,1024.9 1481.7,1029.7 1484.4,1034.5 1487.2,1039.2 1489.9,1043.8 1492.6,1048.4 1495.4,1053.0 1498.1,1057.5 1500.8,1061.9 1503.6,1066.3 1506.3,1070.6 1509.0,1074.8 1511.8,1079.0 1514.5,1083.2 1517.2,1087.3 1520.0,1091.4 1522.7,1095.4 1525.4,1099.3 1528.2,1103.2 1530.9,1107.1 1533.6,1110.9 1536.4,1114.6 1539.1,1118.3 1541.8,1122.0 1544.6,1125.6 1547.3,1129.1 1550.0,1132.6 1552.8,1136.1 1555.5,1139.5 1558.2,1142.9 1561.0,1146.2 1563.7,1149.5 1566.4,1152.7 1569.2,1155.9 1571.9,1159.0 1574.7,1162.1 1577.4,1165.2 1580.1,1168.2 1582.9,1171.2 1585.6,1174.1 1588.3,1177.0 1591.1,1179.8 1593.8,1182.6 1596.5,1185.4 1599.3,1188.1 1602.0,1190.8 1604.7,1193.4 1607.5,1196.1 1610.2,1198.6 1612.9,1201.2 1615.7,1203.6 1618.4,1206.1 1621.1,1208.5 1623.9,1210.9 1626.6,1213.3 1629.3,1215.6 1632.1,1217.8 1634.8,1220.1 1637.5,1222.3 1640.3,1224.5 1643.0,1226.6 1645.7,1228.7 1648.5,1230.8 1651.2,1232.8 1653.9,1234.9 1656.7,1236.8 1659.4,1238.8 1662.1,1240.7 1664.9,1242.6 1667.6,1244.5 1670.3,1246.3 1673.1,1248.1 1675.8,1249.9 1678.5,1251.6 1681.3,1253.3 1684.0,1255.0 1686.7,1256.7 1689.5,1258.3 1692.2,1260.0 1694.9,1261.5 1697.7,1263.1 1700.4,1264.6 1703.2,1266.2 1705.9,1267.7 1708.6,1269.1 1711.4,1270.6 1714.1,1272.0 1716.8,1273.4 1719.6,1274.8 1722.3,1276.1 1725.0,1277.5 1727.8,1278.8 1730.5,1280.1 1733.2,1281.4 1736.0,1282.6 1738.7,1283.9 1741.4,1285.1 1744.2,1286.3 1746.9,1287.5 1749.6,1288.6 1752.4,1289.8 1755.1,1290.9 1757.8,1292.1 1760.6,1293.2 1763.3,1294.3 1766.0,1295.3 1768.8,1296.4 1771.5,1297.4 1774.2,1298.5 1777.0,1299.5 1779.7,1300.5 1782.4,1301.5 1785.2,1302.5 1787.9,1303.5 1790.6,1304.4 1793.4,1305.4 1796.1,1306.3 1798.8,1307.3 1801.6,1308.2 1804.3,1309.1 1807.0,1310.0 1809.8,1310.9 1812.5,1311.8 1815.2,1312.7 1818.0,1313.5 1820.7,1314.4 1823.4,1315.2 1826.2,1316.1 1828.9,1316.9 1831.7,1317.7 1834.4,1318.5 1837.1,1319.3 1839.9,1320.1 1842.6,1320.9 1845.3,1321.6 1848.1,1322.4 1850.8,1323.1 1853.5,1323.9 1856.3,1324.6 1859.0,1325.3 1861.7,1326.0 1864.5,1326.7 1867.2,1327.4 1869.9,1328.1 1872.7,1328.8 1875.4,1329.4 1878.1,1330.1 1880.9,1330.7 1883.6,1331.4 1886.3,1332.0 1889.1,1332.6 1891.8,1333.3 1894.5,1333.9 1897.3,1334.5 1900.0,1335.1 1902.7,1335.6 1905.5,1336.2 1908.2,1336.8 1910.9,1337.4 1913.7,1337.9 1916.4,1338.5 1919.1,1339.0 1921.9,1339.5 1924.6,1340.0 1927.3,1340.6 1930.1,1341.1 1932.8,1341.6 1935.5,1342.1 1938.3,1342.5 1941.0,1343.0 1943.7,1343.5 1946.5,1344.0 1949.2,1344.4 1951.9,1344.9 1954.7,1345.3 1957.4,1345.8 1960.1,1346.2 1962.9,1346.6 1965.6,1347.0 1968.4,1347.5 1971.1,1347.9 1973.8,1348.3 1976.6,1348.7 1979.3,1349.0 1982.0,1349.4 1984.8,1349.8 1987.5,1350.2 1990.2,1350.5 1993.0,1350.9 1995.7,1351.3 1998.4,1351.6 2001.2,1351.9 2003.9,1352.3 2006.6,1352.6 2009.4,1352.9 2012.1,1353.3 2014.8,1353.6 2017.6,1353.9 2020.3,1354.2 2023.0,1354.5 2025.8,1354.8 2028.5,1355.1 2031.2,1355.4 2034.0,1355.6 2036.7,1355.9 2039.4,1356.2 2042.2,1356.5 2044.9,1356.7 2047.6,1357.0 2050.4,1357.2 2053.1,1357.5 2055.8,1357.7 2058.6,1358.0 2061.3,1358.2 2064.0,1358.4 2066.8,1358.7 2069.5,1358.9 2072.2,1359.1 2075.0,1359.3 2077.7,1359.5 2080.4,1359.8 2083.2,1360.0 2085.9,1360.2 2088.6,1360.4 2091.4,1360.6 2094.1,1360.7 2096.9,1360.9 2099.6,1361.1 2102.3,1361.3 2105.1,1361.5 2107.8,1361.7 2110.5,1361.8 2113.3,1362.0 2116.0,1362.2 2118.7,1362.4 2121.5,1362.5 2124.2,1362.7 2126.9,1362.8 2129.7,1363.0 2132.4,1363.1 2135.1,1363.3 2137.9,1363.4 2140.6,1363.6 2143.3,1363.7 2146.1,1363.9 2148.8,1364.0 2151.5,1364.2 2154.3,1364.3 2157.0,1364.4 2159.7,1364.6 2162.5,1364.7 2165.2,1364.8 2167.9,1365.0 2170.7,1365.1 2173.4,1365.2 2176.1,1365.4 2178.9,1365.5 2181.6,1365.6 2184.3,1365.7 2187.1,1365.8 2189.8,1366.0 2192.5,1366.1 2195.3,1366.2 2198.0,1366.3 2200.7,1366.4 2203.5,1366.6 2206.2,1366.7 2208.9,1366.8 2211.7,1366.9 2214.4,1367.0 2217.1,1367.1 2219.9,1367.2 2222.6,1367.4 2225.3,1367.5" fill="none" stroke="#0000ff" stroke-width="13.0" stroke-linejoin="round" stroke-linecap="round"/>
<polygon points="256.85,1549.46 279.87,1588.96 233.83,1588.96" fill="#0000ff"/>
<polygon points="311.53,1517.46 334.55,1556.96 288.51,1556.96" fill="#0000ff"/>
<polygon points="382.62,1485.46 405.63,1524.96 359.60,1524.96" fill="#0000ff"/>
<polygon points="475.57,1421.47 498.59,1460.97 452.56,1460.97" fill="#0000ff"/>
<polygon points="584.93,1325.48 607.95,1364.98 561.92,1364.98" fill="#0000ff"/>
<polygon points="727.10,1085.50 750.12,1125.00 704.09,1125.00" fill="#0000ff"/>
<polygon points="913.02,445.56 936.03,485.06 890.00,485.06" fill="#0000ff"/>
<polygon points="1131.74,205.58 1154.75,245.08 1108.72,245.08" fill="#0000ff"/>
<polygon points="1405.14,845.52 1428.16,885.02 1382.13,885.02" fill="#0000ff"/>
<polygon points="1787.91,1277.48 1810.92,1316.98 1764.89,1316.98" fill="#0000ff"/>
<polygon points="2225.35,1341.48 2248.37,1380.98 2202.33,1380.98" fill="#0000ff"/>
</g>
<text x="225.8" y="1660.4" font-family="Liberation Serif, Times New Roman, serif" font-weight="bold" font-size="68" text-anchor="end">0.0</text>
<text x="225.8" y="1340.4" font-family="Liberation Serif, Times New Roman, serif" font-weight="bold" font-size="68" text-anchor="end">0.2</text>
<text x="225.8" y="1020.4" font-family="Liberation Serif, Times New Roman, serif" font-weight="bold" font-size="68" text-anchor="end">0.4</text>
<text x="225.8" y="700.5" font-family="Liberation Serif, Times New Roman, serif" font-weight="bold" font-size="68" text-anchor="end">0.6</text>
<text x="225.8" y="380.5" font-family="Liberation Serif, Times New Roman, serif" font-weight="bold" font-size="68" text-anchor="end">0.8</text>
<text x="225.8" y="60.5" font-family="Liberation Serif, Times New Roman, serif" font-weight="bold" font-size="68" text-anchor="end">1.0</text>
<text x="475.6" y="1724" font-family="Liberation Serif, Times New Roman, serif" font-weight="bold" font-size="67" text-anchor="middle">400</text>
<text x="913.0" y="1724" font-family="Liberation Serif, Times New Roman, serif" font-weight="bold" font-size="67" text-anchor="middle">800</text>
<text x="1350.5" y="1724" font-family="Liberation Serif, Times New Roman, serif" font-weight="bold" font-size="67" text-anchor="middle">1200</text>
<text x="1787.9" y="1724" font-family="Liberation Serif, Times New Roman, serif" font-weight="bold" font-size="67" text-anchor="middle">1600</text>
<text x="2225.3" y="1724" font-family="Liberation Serif, Times New Roman, serif" font-weight="bold" font-size="67" text-anchor="middle">2000</text>
<text x="973.6" y="1854.8" font-family="Liberation Serif, Times New Roman, serif" font-weight="bold" font-size="80.4">Frequency (Hz)</text>
<text transform="translate(87.4,1401.7) rotate(-90)" font-family="Liberation Serif, Times New Roman, serif" font-weight="bold" font-size="80.4">Sound Absorption Coefficient</text>
<line x1="1354" y1="152.9" x2="1480" y2="152.9" stroke="#000000" stroke-width="13.0" stroke-linecap="round"/>
<rect x="1399.60" y="135.60" width="34.6" height="34.6" fill="#000000"/>
<text x="1496.3" y="170.7" font-family="Liberation Serif, Times New Roman, serif" font-weight="bold" font-size="54.3">NBR-PUFM-NBR</text>
<line x1="1354" y1="223.7" x2="1480" y2="223.7" stroke="#ff0000" stroke-width="13.0" stroke-linecap="round"/>
<circle cx="1416.90" cy="223.70" r="17.6" fill="#ff0000"/>
<text x="1497.6" y="241.0" font-family="Liberation Serif, Times New Roman, serif" font-weight="bold" font-size="54.3">PZT/NBR-PUFM-PZT/NBR</text>
<line x1="1354" y1="294.5" x2="1480" y2="294.5" stroke="#0000ff" stroke-width="13.0" stroke-linecap="round"/>
<polygon points="1416.90,269.50 1439.05,307.50 1394.75,307.50" fill="#0000ff"/>
<text x="1497.6" y="311.8" font-family="Liberation Serif, Times New Roman, serif" font-weight="bold" font-size="54.3" textLength="601.7" lengthAdjust="spacing">BT/NBR-PUFM-BT/NBR</text>
</svg>
</body></html>
